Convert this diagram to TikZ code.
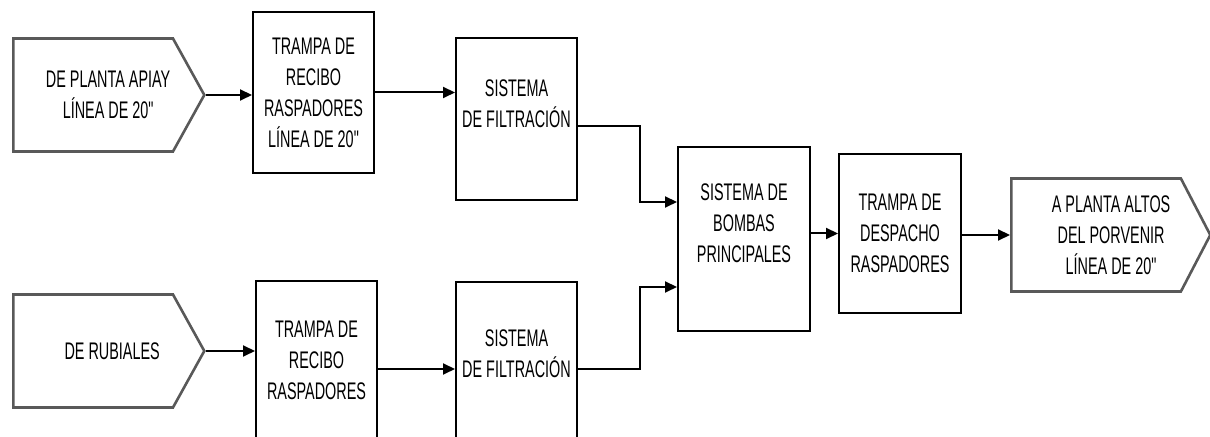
\documentclass[tikz,border=0pt]{standalone}
\usepackage{fontspec}
\setmainfont{Liberation Sans}[FakeStretch=0.6,Ligatures=TeXOff]
\usetikzlibrary{arrows.meta,shapes.symbols}

\begin{document}
\begin{tikzpicture}[x=0.5pt,y=-0.5pt,
    font=\fontsize{12}{15.5}\selectfont,
    caja/.style={draw,line width=1pt,align=center,inner sep=1pt,
      minimum width=60.5pt,minimum height=80.5pt},
    puerto/.style={draw=black!65,line width=1.3pt,shape=signal,signal to=east,
      signal pointer angle=122,minimum width=95.5pt,
      minimum height=56.5pt,anchor=west},
    rotulo/.style={align=center,xshift=7.5pt},
    flujo/.style={line width=1pt,-{Triangle[length=6pt,width=5.5pt]}}]
  \useasboundingbox (0,0) rectangle (1210,437);
  \node[puerto,label={[rotulo]center:{DE PLANTA APIAY\\LÍNEA DE 20"}}] (apiay) at (12,95) {};
  \node[puerto,label={[rotulo,xshift=2pt]center:DE RUBIALES}] (rubiales) at (12,351) {};
  \node[caja] (trampaA) at (313.5,92.5) {TRAMPA DE\\RECIBO\\RASPADORES\\LÍNEA DE 20"};
  \node[caja,minimum height=79.5pt] (trampaB) at (316.5,360.5) {TRAMPA DE\\RECIBO\\RASPADORES};
  \node[caja,minimum height=81pt] (filtroA) at (516.5,119) {SISTEMA\\DE FILTRACIÓN\\\mbox{}};
  \node[caja,minimum height=87pt] (filtroB) at (516.5,369) {SISTEMA\\DE FILTRACIÓN\\\mbox{}};
  \node[caja,minimum width=66pt,minimum height=92pt] (bombas) at (744,239) {SISTEMA DE\\BOMBAS\\PRINCIPALES\\\mbox{}};
  \node[caja,minimum width=61pt,minimum height=79.5pt] (despacho) at (900,233.5) {TRAMPA DE\\DESPACHO\\RASPADORES};
  \node[puerto,minimum width=99.5pt,signal pointer angle=125,
    label={[rotulo]center:{A PLANTA ALTOS\\DEL PORVENIR\\LÍNEA DE 20"}}] (altos) at (1010,235) {};

  \draw[flujo] (apiay.east) -- (apiay.east -| trampaA.west);
  \draw[flujo] (rubiales.east) -- (rubiales.east -| trampaB.west);
  \draw[flujo] (trampaA.east) -- (trampaA.east -| filtroA.west);
  \draw[flujo] (trampaB.east |- filtroB.west) -- (filtroB.west);
  \draw[flujo] ([yshift=-3.5pt]filtroA.east) -- ++(31pt,0) |- ([yshift=18.5pt]bombas.west);
  \draw[flujo] (filtroB.east) -- ++(31pt,0) |- ([yshift=-24pt]bombas.west);
  \draw[flujo] (bombas.east |- despacho.west) -- (despacho.west);
  \draw[flujo] (despacho.east |- altos.west) -- (altos.west);
\end{tikzpicture}
\end{document}
